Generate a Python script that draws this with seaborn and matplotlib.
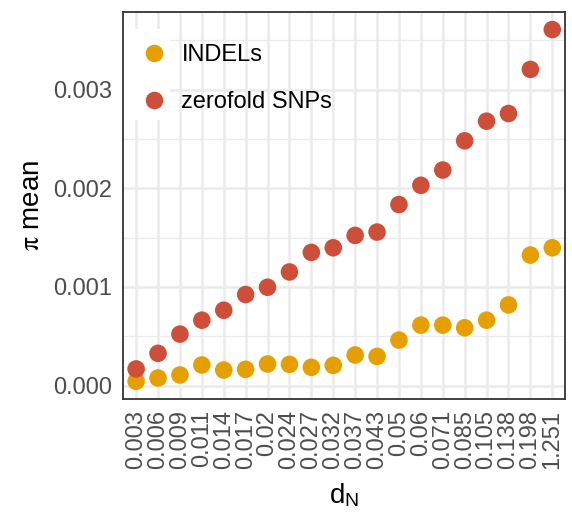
import matplotlib
matplotlib.use("Agg")
import matplotlib.pyplot as plt
from matplotlib.patches import Rectangle
from matplotlib.ticker import MultipleLocator
import seaborn as sns
import pandas as pd

# Divergence classes (dN) and mean nucleotide diversity per class
dn_labels = ["0.003", "0.006", "0.009", "0.011", "0.014", "0.017", "0.02",
             "0.024", "0.027", "0.032", "0.037", "0.043", "0.05", "0.06",
             "0.071", "0.085", "0.105", "0.138", "0.198", "1.251"]
indels = [0.000044, 0.000077, 0.000108, 0.000209, 0.000158, 0.000165,
          0.000219, 0.000215, 0.000185, 0.000205, 0.000310, 0.000296,
          0.000461, 0.000613, 0.000613, 0.000586, 0.000663, 0.000818,
          0.001323, 0.001397]
zerofold = [0.000169, 0.000327, 0.000522, 0.000663, 0.000764, 0.000923,
            0.000997, 0.001152, 0.001350, 0.001397, 0.001522, 0.001556,
            0.001835, 0.002030, 0.002185, 0.002481, 0.002680, 0.002758,
            0.003205, 0.003609]
series_names = ["INDELs", "zerofold SNPs"]
series_colors = ["#E69F00", "#CD4F39"]

df = pd.DataFrame({
    "dN": dn_labels * 2,
    "pi": indels + zerofold,
    "type": [series_names[0]] * len(dn_labels) + [series_names[1]] * len(dn_labels),
})

sns.set_theme(style="white")
plt.rcParams["font.family"] = ["Liberation Sans", "DejaVu Sans"]
plt.rcParams["mathtext.fontset"] = "stix"

fig = plt.figure(figsize=(5.72, 5.2), dpi=100)
ax = fig.add_axes([0.215, 0.233, 0.7735, 0.744])

sns.scatterplot(data=df, x="dN", y="pi", hue="type", hue_order=series_names,
                palette=series_colors, s=160, linewidth=0, ax=ax, zorder=3,
                legend=True)

# axis ranges (ggplot-style expansion)
n = len(dn_labels)
ax.set_xlim(-0.6, n - 1 + 0.6)
lo, hi = min(indels + zerofold), max(indels + zerofold)
pad = (hi - lo) * 0.05
ax.set_ylim(lo - pad, hi + pad)

# grid
ax.yaxis.set_major_locator(MultipleLocator(0.001))
ax.yaxis.set_minor_locator(MultipleLocator(0.0005))
ax.set_axisbelow(True)
ax.grid(True, which="major", color="#EBEBEB", linewidth=1.8)
ax.grid(True, which="minor", axis="y", color="#EBEBEB", linewidth=0.9)
ax.set_yticks([0.0, 0.001, 0.002, 0.003])
ax.set_yticklabels(["0.000", "0.001", "0.002", "0.003"])

for sp in ax.spines.values():
    sp.set_color("#333333")
    sp.set_linewidth(1.3)

ax.tick_params(axis="both", which="major", direction="out", length=5,
               width=1.3, color="#333333", labelcolor="#4D4D4D",
               labelsize=17, pad=3)
ax.tick_params(axis="y", which="minor", length=0)
ax.tick_params(axis="x", labelrotation=90)

ax.set_xlabel(r"d$_\mathregular{N}$", fontsize=20, color="black", labelpad=9)
ax.set_ylabel(r"$\mathrm{π}$ mean", fontsize=20, color="black", labelpad=6)

# legend inside the panel, white key background only
ax.add_patch(Rectangle((0.0, 0.72), 0.107, 0.235, transform=ax.transAxes,
                       facecolor="white", edgecolor="none", zorder=1.5))
handles, labels = ax.get_legend_handles_labels()
leg = ax.legend(handles, labels, loc="upper left", bbox_to_anchor=(-0.012, 0.965),
                frameon=False, fontsize=17, handletextpad=0.4,
                labelspacing=1.05, borderpad=0.3, handlelength=1.5,
                markerscale=1.0)
for t in leg.get_texts():
    t.set_color("black")

fig.savefig("out.png", dpi=100)
